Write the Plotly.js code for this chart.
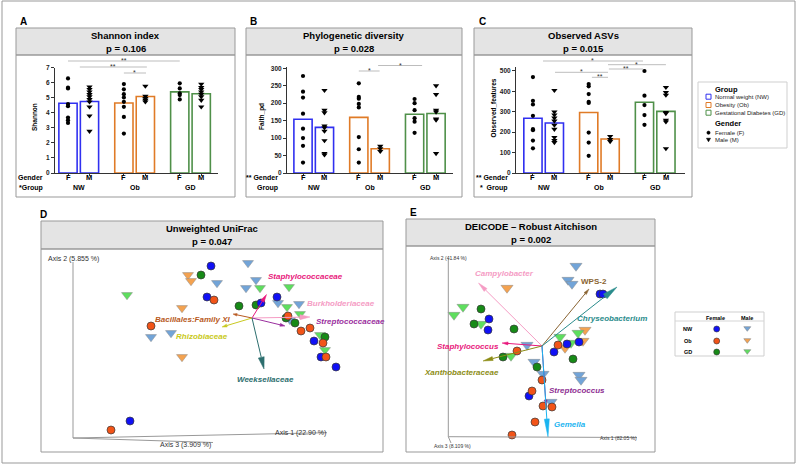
<!DOCTYPE html>
<html><head><meta charset="utf-8">
<script src="https://cdn.plot.ly/plotly-3.0.1.min.js"></script>
<style>html,body{margin:0;padding:0;background:#fff}#chart{width:798px;height:465px}</style>
</head><body><div id="chart"></div>
<script>
// ---------------- DATA ----------------
const barNames = ["NW F","NW M","Ob F","Ob M","GD F","GD M"];
const genderLabels = ["F","M","F","M","F","M"];
const groupLabels = ["NW","Ob","GD"];
// alpha diversity per bar (NW F, NW M, Ob F, Ob M, GD F, GD M)
const shannon = [[6.29,5.67,5.62,4.58,4.44,3.69,3.51,3.33],[5.73,5.56,5.4,5.22,5.07,4.89,4.73,4.4,3.8,2.78],[5.91,5.56,5.24,5.02,4.73,4.4,3.73,2.62],[5.78,5.11,4.96,4.84,4.73],[5.96,5.62,5.3,5.18,4.89],[5.91,5.69,5.56,5.4,5.24,5.07,4.84,4.4]];
const faith = [[278,233,216,170,127,100,78,30],[237,180,173,135,130,120,93,56,52],[257,218,213,198,188,103,68,30],[77,70,62],[212,200,180,157,147,115],[250,225,180,175,155,152,56]];
const observed = [[470,354,336,280,215,210,159,121],[405,300,285,270,255,235,215,175,160,150],[436,425,387,349,343,198,149,84],[180,165,155],[500,379,333,284,236],[420,395,382,297,292,259,251,120]];
// significance brackets [from, to, label]
const shannonSig = [[0,5.2,"**"],[0.55,3.67,"**"],[2.6,3.63,"*"]];
const faithSig = [[2.6,3.57,"*"],[3.5,5.55,"*"]];
const observedSig = [[0.47,5.13,"*"],[1.03,3.5,"*"],[2.75,3.5,"**"],[3.54,5.13,"**"],[3.5,6.2,"*"]];
// Unweighted UniFrac ordination (scores x1000)
const uniNWF = [[-1,84],[-5,53],[65,53],[49,47],[102,9],[109,-7],[124,-17],[-82,-71]];
const uniNWM = [[36,87],[5,67],[44,70],[34,62],[66,47],[87,46],[78,30],[-61,13],[-41,17]];
const uniObF = [[2,50],[76,34],[98,22],[89,19],[111,7],[114,-7],[-61,24],[-101,-80]];
const uniObM = [[-24,75],[-21,69],[-30,42],[-30,-7]];
const uniGDF = [[-11,75],[27,44],[44,45],[74,32],[83,27],[113,13]];
const uniGDM = [[48,62],[77,63],[-85,55],[75,43],[88,36],[108,15],[113,0]];
const uniOrigin = [40,32];
const uniVecNames = ["Staphylococcaceae","Burkholderiaceae","Streptococcaceae","Bacillales:Family XI","Rhizobiaceae","Weeksellaceae"];
const uniVecX = [54.5,98,73,21,10,52];
const uniVecY = [55.5,33,24,36,23,-19];
// DEICODE robust Aitchison ordination (scores x1000)
const aitNWF = [[70,56],[73,56],[-41,31],[-42,20],[37,6],[49,8],[24,-2],[-1,-46]];
const aitNWM = [[46,84],[38,70],[42,66],[-3,5],[4,-12],[13,-24],[49,-25],[51,-30],[21,-52]];
const aitObF = [[-13,-1],[28,5],[12,-30],[2,-41],[13,-56],[22,-57],[5,-72],[-18,-85]];
const aitObM = [[-23,62],[55,20],[53,9],[35,2]];
const aitGDF = [[-49,41],[-56,26],[-16,21],[-27,-7],[7,-17],[43,-9]];
const aitGDM = [[-67,43],[-76,35],[-49,26],[-19,-6],[30,13],[48,17],[41,7]];
const aitOrigin = [12,4];
const aitVecNames = ["Campylobacter","WPS-2","Chryseobacterium","Staphylococcus","Xanthobacteraceae","Streptococcus","Gemella"];
const aitVecX = [-51.5,59,87,-28,-47,16,18];
const aitVecY = [67,61,63,7,-11,-55,-87];

// ---------------- STYLE / LAYOUT ----------------
const W=798,H=465, FONT="Liberation Sans, Arial, sans-serif";
const X=p=>p/W, Y=p=>1-p/H;
const pos=[0,1,2.6,3.6,5.2,6.2];
const barColors=["#3030f0","#3030f0","#e07b27","#e07b27","#4f9049","#4f9049"];
const ptColors=["#1010f5","#72a4d8","#f25418","#f4a250","#178a17","#5ede5e"];
const traces=[], shapes=[], ann=[];
const mean=a=>a.reduce((s,v)=>s+v,0)/a.length;

function rect(x0,y0,x1,y1,line,fill,layer){shapes.push({type:'rect',xref:'paper',yref:'paper',x0:X(x0),x1:X(x1),y0:Y(y0),y1:Y(y1),line:{color:line||'rgba(0,0,0,0)',width:line?1:0},fillcolor:fill||'rgba(0,0,0,0)',layer:layer||'above'});}
function seg(x0,y0,x1,y1,color,w){shapes.push({type:'line',xref:'paper',yref:'paper',x0:X(x0),x1:X(x1),y0:Y(y0),y1:Y(y1),line:{color:color,width:w||1}});}
function txt(x,y,t,size,o){o=o||{};ann.push(Object.assign({xref:'paper',yref:'paper',x:X(x),y:Y(y),text:t,showarrow:false,xanchor:o.xa||'center',yanchor:'middle',font:{family:FONT,size:size,color:o.color||'#000'}},o.extra||{}));}
function circ(cx,cy,r,fill,line){shapes.push({type:'circle',xref:'paper',yref:'paper',x0:X(cx-r),x1:X(cx+r),y0:Y(cy+r),y1:Y(cy-r),fillcolor:fill,line:{color:line||fill,width:0.6}});}
function tri(cx,cy,w,h,fill,line){shapes.push({type:'path',xref:'paper',yref:'paper',path:`M${X(cx-w/2)},${Y(cy-h/2)} L${X(cx+w/2)},${Y(cy-h/2)} L${X(cx)},${Y(cy+h/2)} Z`,fillcolor:fill,line:{color:line||fill,width:0.6}});}

// frame
rect(2,1,795,463,'#999');

// --------- bar panels ---------
function barPanel(vals, ax){
  traces.push({type:'bar',x:pos,y:vals.map(mean),width:0.85,xaxis:'x'+ax,yaxis:'y'+ax,
    marker:{color:'rgba(255,255,255,0)',line:{color:barColors,width:1.6}},hoverinfo:'skip'});
  vals.forEach((arr,i)=>{
    traces.push({type:'scatter',mode:'markers',x:arr.map(()=>pos[i]),y:arr,xaxis:'x'+ax,yaxis:'y'+ax,cliponaxis:false,
      marker:{symbol:i%2?'triangle-down':'circle',size:i%2?5.5:4.2,color:'#000',line:{width:0}},hoverinfo:'skip'});
  });
}
barPanel(shannon,''); barPanel(faith,'2'); barPanel(observed,'3');

function xax(px0,px1,range,anchor){return {domain:[X(px0),X(px1)],range:range,anchor:anchor,showline:true,linecolor:'#333',linewidth:1,ticks:'outside',ticklen:2,tickcolor:'#333',tickvals:pos,showticklabels:false,showgrid:false,zeroline:false,fixedrange:true};}
function yax(top,range,tv,anchor){return {domain:[Y(173),Y(top)],range:range,anchor:anchor,showline:true,linecolor:'#333',linewidth:1,ticks:'outside',ticklen:3,tickcolor:'#333',tickvals:tv,tickfont:{family:FONT,size:6.5,color:'#222',weight:'bold'},showgrid:false,zeroline:false,fixedrange:true};}

const panels=[
  {ax:'',title:'Shannon index',p:'p = 0.106',box:[16,235],yt:'Shannon',ytx:35,yty:117,sig:shannonSig,lev:[61,67,73],row1:'Gender',row2:'*Group',rowx:45,letter:'A',lx:23},
  {ax:'2',title:'Phylogenetic diversity',p:'p = 0.028',box:[246,462],yt:'Faith_pd',ytx:262,yty:117,sig:faithSig,lev:[71,65.5],row1:'** Gender',row2:'Group',rowx:280,letter:'B',lx:253},
  {ax:'3',title:'Observed ASVs',p:'p = 0.015',box:[474,692],yt:'Observed_features',ytx:492.5,yty:108,sig:observedSig,lev:[61,72.3,77.3,69,64.7],row1:'** Gender',row2:'*  Group',rowx:510,letter:'C',lx:482}
];
panels.forEach(P=>{
  const [b0,b1]=P.box, cx=(b0+b1)/2;
  rect(b0,28,b1,55,'#999','#e4e4e4');
  rect(b0,55,b1,197,'#999');
  txt(cx,36,'<b>'+P.title+'</b>',9.5);
  txt(cx,48,'<b>'+P.p+'</b>',9.5);
  txt(P.lx,21,'<b>'+P.letter+'</b>',10);
  txt(P.ytx,P.yty,'<b>'+P.yt+'</b>',6.5,{extra:{textangle:-90}});
  txt(P.rowx,177.5,'<b>'+P.row1+'</b>',7,{xa:'right'});
  txt(P.rowx,187.5,'<b>'+P.row2+'</b>',7,{xa:'right'});
  const xr='x'+P.ax;
  genderLabels.forEach((g,i)=>ann.push({xref:xr,yref:'paper',x:pos[i],y:Y(177.5),text:'<b>'+g+'</b>',showarrow:false,xanchor:'center',yanchor:'middle',font:{family:FONT,size:7.5,color:'#000'}}));
  groupLabels.forEach((g,i)=>ann.push({xref:xr,yref:'paper',x:(pos[2*i]+pos[2*i+1])/2,y:Y(187.5),text:'<b>'+g+'</b>',showarrow:false,xanchor:'center',yanchor:'middle',font:{family:FONT,size:7,color:'#000'}}));
  P.sig.forEach((s,k)=>{
    const yy=P.lev[k];
    shapes.push({type:'line',xref:xr,yref:'paper',x0:s[0],x1:s[1],y0:Y(yy),y1:Y(yy),line:{color:'#bdbdbd',width:1}});
    ann.push({xref:xr,yref:'paper',x:(s[0]+s[1])/2,y:Y(yy-0.5),text:s[2],showarrow:false,xanchor:'center',yanchor:'middle',font:{family:FONT,size:7,color:'#333'}});
  });
});

// --------- ordination panels ---------
const symb=['circle','triangle-down','circle','triangle-down','circle','triangle-down'];
function ordPanel(series, ax, triSize){
  const order=[1,3,5,4,0,2];
  order.forEach(i=>{
    const d=series[i], isTri=i%2===1;
    traces.push({type:'scatter',mode:'markers',x:d.map(p=>p[0]),y:d.map(p=>p[1]),xaxis:'x'+ax,yaxis:'y'+ax,
      marker:{symbol:symb[i],size:isTri?triSize:8,color:ptColors[i],line:{color:isTri?'#8a8a8a':'#3a3a3a',width:isTri?0.5:0.7}},hoverinfo:'skip'});
  });
}
ordPanel([uniNWF,uniNWM,uniObF,uniObM,uniGDF,uniGDM],'4',9.5);
ordPanel([aitNWF,aitNWM,aitObF,aitObM,aitGDF,aitGDM],'5',10.5);

function vectors(ax,origin,vx,vy,colors,cones){
  vx.forEach((hx,i)=>{
    const hy=vy[i], ox=origin[0], oy=origin[1];
    const dx=hx-ox, dy=hy-oy, len=Math.hypot(dx,dy), ux=dx/len, uy=dy/len;
    const [L,w]=cones[i];
    const bx=hx-ux*L, by=hy-uy*L, nx=-uy, ny=ux;
    shapes.push({type:'line',xref:'x'+ax,yref:'y'+ax,x0:ox,y0:oy,x1:bx,y1:by,line:{color:colors[i],width:1}});
    shapes.push({type:'path',xref:'x'+ax,yref:'y'+ax,path:`M${hx},${hy} L${bx+nx*w/2},${by+ny*w/2} L${bx-nx*w/2},${by-ny*w/2} Z`,fillcolor:colors[i],line:{color:colors[i],width:0.5}});
  });
}
const uniColors=["#e8187c","#f59cc4","#9a2e9e","#b85a22","#c9c920","#2c6e6e"];
const aitColors=["#f59cc4","#8a6432","#2a8c8c","#e8187c","#8c8c14","#8e2e92","#1ab4f0"];
vectors('4',uniOrigin,uniVecX,uniVecY,uniColors,[[8,4],[10,5],[5,3],[4,2.5],[5,3],[12,6]]);
vectors('5',aitOrigin,aitVecX,aitVecY,aitColors,[[10,4],[6,3],[15,6],[6,3],[10,4],[5,3],[18,5]]);

// D decorations
rect(41,221,383,249,'#999','#e4e4e4');
rect(41,249,383,452,'#999');
txt(212,229,'<b>Unweighted UniFrac</b>',9.5);
txt(212,241,'<b>p = 0.047</b>',9.5);
txt(43,214,'<b>D</b>',10);
seg(73,438,73,262,'#999'); seg(73,438,327,432.7,'#999'); seg(73,438,213,442.5,'#999');
txt(46,259,'Axis 2 (5.855 %)',7,{xa:'left',color:'#333'});
txt(300,433,'Axis 1 (22.90 %)',7,{color:'#333'});
txt(185,444.5,'Axis 3 (3.909 %)',7,{color:'#333'});
const uniLab=[[305,276,'center'],[305,303.5,'left'],[313.5,321,'left'],[192,319,'center'],[201.7,336.7,'center'],[265.5,379,'center']];
uniVecNames.forEach((n,i)=>txt(uniLab[i][0],uniLab[i][1],'<b><i>'+n+'</i></b>',8,{xa:uniLab[i][2],color:uniColors[i]}));

// E decorations
rect(406,219,655,246,'#999','#e4e4e4');
rect(406,246,655,452,'#999');
txt(530.5,226,'<b>DEICODE – Robust Aitchison</b>',9.5);
txt(530.5,239,'<b>p = 0.002</b>',9.5);
txt(413,212,'<b>E</b>',10);
seg(448.3,436.7,448.3,259,'#999'); seg(448.3,436.7,637,437.5,'#999'); seg(448.3,436.7,451,443,'#999');
txt(448.3,257.7,'Axis 2 (41.84 %)',5,{color:'#333'});
txt(618.5,438,'Axis 1 (82.05 %)',5,{color:'#333'});
txt(452.5,445.7,'Axis 3 (8.109 %)',5,{color:'#333'});
const aitLab=[[504.3,273.3],[594,281],[612,318.3],[468.3,346],[461,372.7],[577,390],[570.3,424]];
aitVecNames.forEach((n,i)=>txt(aitLab[i][0],aitLab[i][1],i===1?'<b>'+n+'</b>':'<b><i>'+n+'</i></b>',8,{color:aitColors[i]}));

// top-right legend
rect(698,82,787,148,'#cfcfcf');
txt(713,89,'<b>Group</b>',7.5,{xa:'left'});
const legNames=["Normal weight (NW)","Obesity (Ob)","Gestational Diabetes (GD)"];
const legCol=["#3030f0","#e07b27","#4f9049"];
[96.7,105,112.7].forEach((yy,i)=>{rect(706,yy-2.5,711,yy+2.5,legCol[i]);txt(712.7,yy,legNames[i],6,{xa:'left',color:'#222'});});
txt(713,124,'<b>Gender</b>',7.5,{xa:'left'});
circ(708.5,132.7,1.6,'#000');
txt(712.7,132.7,'Female (F)',6,{xa:'left',color:'#222'});
tri(708.5,140,4,3.5,'#000');
txt(712.7,140,'Male (M)',6,{xa:'left',color:'#222'});

// bottom-right legend
rect(675,312,764,356,'#cfcfcf');
seg(675,321,764,321,'#d5d5d5');
txt(715,317.5,'<b>Female</b>',5.5);
txt(747,317.5,'<b>Male</b>',5.5);
[[329,'NW',0],[341,'Ob',2],[352,'GD',4]].forEach(r=>{
  txt(688,r[0],'<b>'+r[1]+'</b>',5.5);
  circ(716.7,r[0],3,ptColors[r[2]],'#333');
  tri(747.3,r[0],7,4.6,ptColors[r[2]+1],'#888');
});

const layout={width:W,height:H,margin:{l:0,r:0,t:0,b:0},paper_bgcolor:'#fff',plot_bgcolor:'rgba(0,0,0,0)',showlegend:false,
  barmode:'overlay',dragmode:false,font:{family:FONT},
  xaxis:xax(55,218,[-0.605,6.98],'y'), yaxis:yax(67.7,[0,7],[0,1,2,3,4,5,6,7],'x'),
  xaxis2:xax(287,453,[-0.746,6.99],'y2'), yaxis2:yax(66.7,[0,304.6],[0,50,100,150,200,250,300],'x2'),
  xaxis3:xax(516,685,[-0.79,7.09],'y3'), yaxis3:yax(66.7,[0,521],[0,100,200,300,400,500],'x3'),
  xaxis4:{domain:[X(41),X(383)],range:[-171,171],visible:false,anchor:'y4',fixedrange:true},
  yaxis4:{domain:[Y(452),Y(249)],range:[-102,101],visible:false,anchor:'x4',fixedrange:true},
  xaxis5:{domain:[X(406),X(655)],range:[-124,125],visible:false,anchor:'y5',fixedrange:true},
  yaxis5:{domain:[Y(452),Y(246)],range:[-102,104],visible:false,anchor:'x5',fixedrange:true},
  shapes:shapes, annotations:ann};
Plotly.newPlot('chart',traces,layout,{staticPlot:true,displayModeBar:false});
</script></body></html>
